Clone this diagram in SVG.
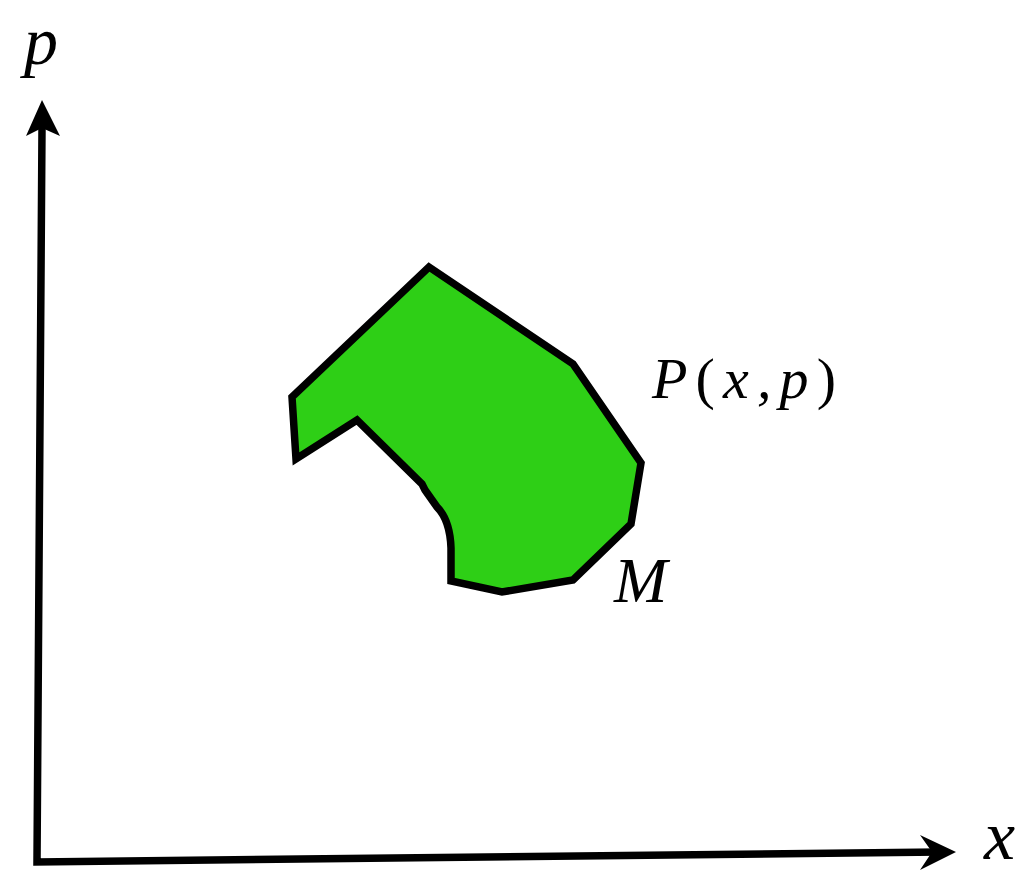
<svg xmlns="http://www.w3.org/2000/svg" width="1033" height="876" viewBox="0 0 1033 876">
<style>
.ax{stroke:#000;stroke-width:7.5;fill:none}
.hd{fill:#000;stroke:none}
.lbl{font-family:"Liberation Serif","Times New Roman",serif;font-style:italic;fill:#000}
.up{font-style:normal}
</style>
<rect width="1033" height="876" fill="#fff"/>
<g id="axes">
<path class="ax" d="M42,128 L37,862 L940,852"/>
<path class="hd" d="M42,100 L60,136 L42,128 L26,136 Z"/>
<path class="hd" d="M956,852 L920,870 L932,852 L920,835 Z"/>
</g>
<g id="region">
<path d="M429,267 L573,364 L641,463 L631,524 L573,580 L502,592 L451,581 L451,548 Q450,520 437,507 L425,490 L422,484 L357,420 L296,459 L292,397 Z" fill="#2ECF16" stroke="#000" stroke-width="7.5" stroke-linejoin="miter"/>
</g>
<g id="labels">
<text class="lbl" x="24" y="64" font-size="68">p</text>
<text class="lbl" x="984" y="859" font-size="70">x</text>
<text class="lbl" x="652" y="398" font-size="58" textLength="184" lengthAdjust="spacing">P<tspan class="up">(</tspan>x,p<tspan class="up">)</tspan></text>
<text class="lbl" x="614" y="602" font-size="64">M</text>
</g>
</svg>
